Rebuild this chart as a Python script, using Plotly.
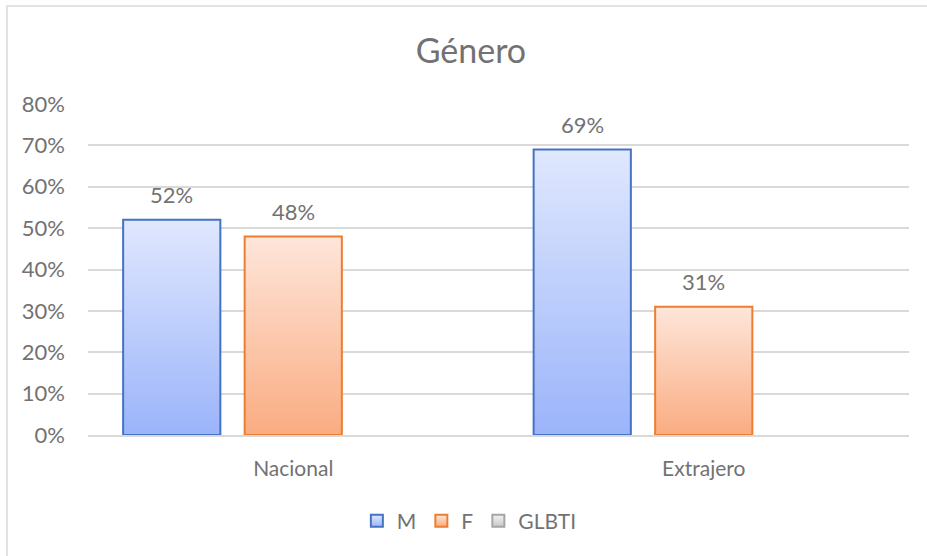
import plotly.graph_objects as go

# data
categories = ["Nacional", "Extrajero"]
series_names = ["M", "F", "GLBTI"]
m_values = [0.52, 0.69]
f_values = [0.48, 0.31]
glbti_values = [None, None]  # nothing drawn for GLBTI
y_ticks = [0, 0.1, 0.2, 0.3, 0.4, 0.5, 0.6, 0.7, 0.8]

# style
font_family = "Lato, 'Open Sans', sans-serif"
text_color = "#727272"
grid_color = "#D9D9D9"
fills = {"M": "#BDCDFB", "F": "#FCC8AC", "GLBTI": "#E4E4E4"}
lines = {"M": "#4472C4", "F": "#ED7D31", "GLBTI": "#A5A5A5"}
gradients = {"M": ("#E0E8FE", "#9BB4FA"), "F": ("#FEE6DA", "#FAAC81"), "GLBTI": ("#F2F2F2", "#C9C9C9")}

fig = go.Figure()
for name, vals in zip(series_names, [m_values, f_values, glbti_values]):
    fig.add_trace(go.Bar(
        x=categories, y=vals, name=name,
        marker=dict(color=fills[name], line=dict(color=lines[name], width=2)),
        hoverinfo="skip",
    ))

# data labels above the bars (GLBTI has no label)
slot_px = 121.5
for offset, vals in [(-slot_px, m_values), (0, f_values)]:
    for cat, v in zip(categories, vals):
        fig.add_annotation(
            x=cat, y=v, xref="x", yref="y", text=f"{v:.0%}", showarrow=False,
            xshift=offset, yshift=25, yanchor="middle",
            font=dict(family=font_family, size=22, color=text_color),
        )

# chart frame (left and top edges visible)
fig.add_shape(type="rect", xref="paper", yref="paper",
              x0=-0.0987, x1=1.05, y0=-0.38, y1=1.296,
              line=dict(color="#D9D9D9", width=1.5), fillcolor="rgba(0,0,0,0)", layer="below")

fig.update_layout(
    width=927, height=556,
    margin=dict(l=88, r=18, t=104, b=121),
    paper_bgcolor="white", plot_bgcolor="white",
    barmode="group", bargap=0.112, bargroupgap=0.2,
    title=dict(text="Género", x=0.508, xanchor="center", y=1 - 51 / 556, yanchor="middle",
               font=dict(family=font_family, size=34, color=text_color)),
    font=dict(family=font_family, size=21, color=text_color),
    legend=dict(orientation="h", x=0.4645, xanchor="center", y=-0.26, yanchor="middle",
                font=dict(family=font_family, size=21, color=text_color),
                itemwidth=30, tracegroupgap=0),
    showlegend=True,
)
fig.update_yaxes(range=[0, 0.8], tickvals=y_ticks, tickformat=".0%",
                 showgrid=True, gridcolor=grid_color, gridwidth=1.5,
                 zeroline=False, showline=False, ticklabelstandoff=22,
                 tickfont=dict(size=22, color=text_color))
fig.update_xaxes(showline=True, linecolor=grid_color, linewidth=1.5,
                 ticks="", ticklabelstandoff=14,
                 tickfont=dict(size=21, color=text_color))

# Excel-like vertical gradient on each bar
grad_js = """
document.body.style.margin = '0';
var gd = document.getElementById('{plot_id}');
function applyGrad() {
  var svg = gd.querySelector('svg.main-svg');
  var ns = 'http://www.w3.org/2000/svg';
  var defs = svg.querySelector('defs');
  var g = %s;
  var names = %s;
  names.forEach(function(n) {
    if (svg.querySelector('#grad_' + n)) return;
    var lg = document.createElementNS(ns, 'linearGradient');
    lg.setAttribute('id', 'grad_' + n);
    lg.setAttribute('x1', '0'); lg.setAttribute('y1', '0');
    lg.setAttribute('x2', '0'); lg.setAttribute('y2', '1');
    [[0, g[n][0]], [1, g[n][1]]].forEach(function(s) {
      var st = document.createElementNS(ns, 'stop');
      st.setAttribute('offset', s[0]);
      st.setAttribute('stop-color', s[1]);
      lg.appendChild(st);
    });
    defs.appendChild(lg);
  });
  gd.querySelectorAll('.barlayer .trace.bars').forEach(function(t, i) {
    t.querySelectorAll('path').forEach(function(p) {
      p.style.fill = 'url(#grad_' + names[i] + ')';
    });
  });
  gd.querySelectorAll('.legend .traces').forEach(function(t, i) {
    t.querySelectorAll('.legendpoints path').forEach(function(p) {
      p.style.fill = 'url(#grad_' + names[i] + ')';
    });
  });
}
applyGrad();
""" % (str({k: list(v) for k, v in gradients.items()}).replace("'", '"'), str(series_names).replace("'", '"'))

fig.write_html("out.html", post_script=grad_js, config={"displayModeBar": False})
